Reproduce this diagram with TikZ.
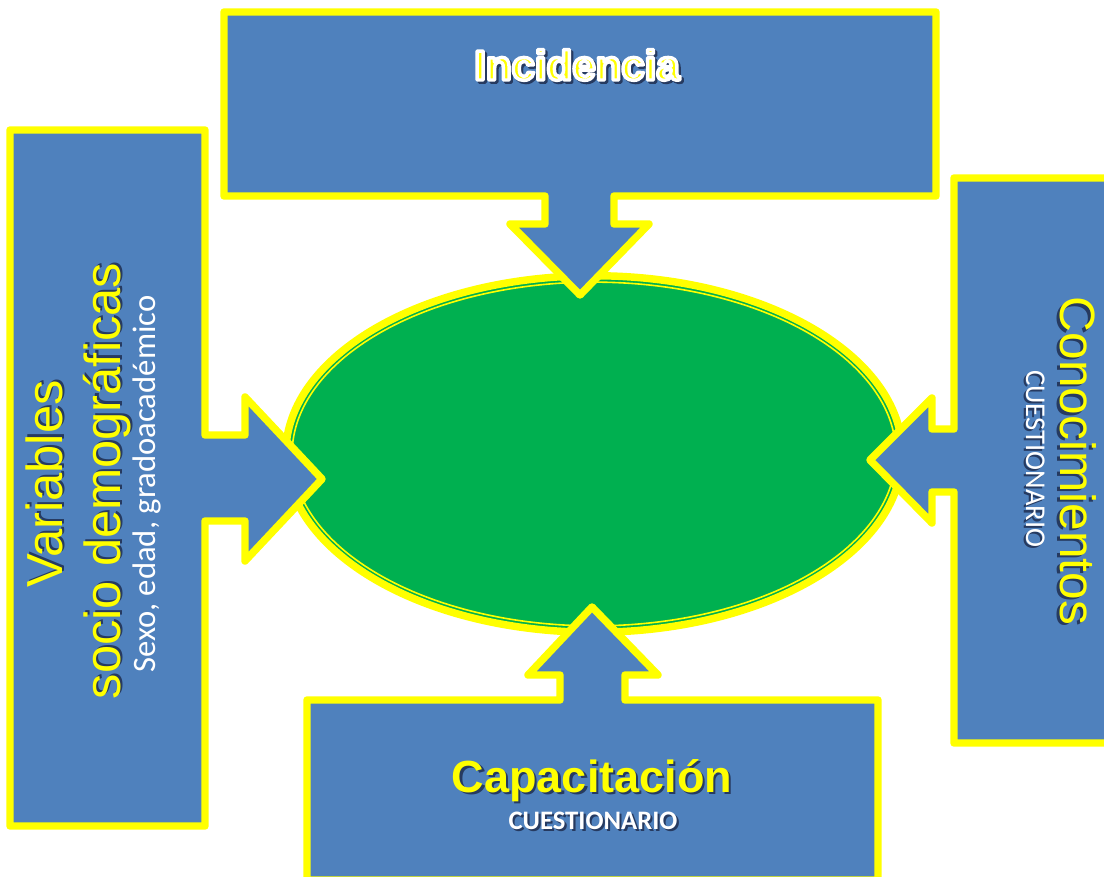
\documentclass[tikz,border=0pt]{standalone}
\usepackage{fontspec}
\setmainfont{Liberation Sans}
\newfontfamily\calib{Carlito}
\definecolor{boxblue}{HTML}{4F81BD}
\definecolor{ylw}{HTML}{FFFF00}
\definecolor{grn}{HTML}{00B050}
\definecolor{shadowc}{RGB}{38,58,96}
\newcommand{\shd}[1]{\rlap{\kern1.6pt\raisebox{-1.6pt}{\textcolor{shadowc}{#1}}}#1}
\newcommand{\strk}[2]{\special{pdf:literal direct 2 Tr #1 w 1 j}#2\special{pdf:literal direct 0 Tr}}
\newcommand{\incout}[1]{%
  \rlap{\kern1.6pt\raisebox{-1.6pt}{\textcolor{shadowc}{\strk{2.6}{#1}}}}%
  \textcolor{ylw}{\special{pdf:literal direct 1 1 1 RG}\strk{2.6}{#1}}}
\begin{document}
\begin{tikzpicture}[x=0.75pt,y=-0.75pt,
  callout/.style={fill=boxblue, draw=ylw, line width=5.6pt, line join=round},
  txt/.style={inner sep=0pt, outer sep=0pt},
  bigtxt/.style={txt, text=ylw, font=\fontsize{38}{44}\selectfont},
  smalltxt/.style={txt, text=white, font=\calib\fontsize{24.5}{28}\selectfont}]
\useasboundingbox (0,0) rectangle (1104,877);
\clip (0,0) rectangle (1104,877);
% central ellipse
\draw[ylw, line width=5.6pt, fill=grn] (594,454) ellipse [x radius=231.2pt, y radius=133.7pt];
\draw[ylw, line width=1.2pt] (594,454) ellipse [x radius=226.4pt, y radius=128.9pt];
% top callout
\draw[callout] (224,12) -- (936,12) -- (936,196) -- (614,196) -- (614,224) -- (649,224)
  -- (580,295) -- (510,224) -- (545,224) -- (545,196) -- (224,196) -- cycle;
% left callout
\draw[callout] (10,130) -- (205,130) -- (205,435) -- (245,435) -- (245,397) -- (322,479)
  -- (245,561) -- (245,521) -- (205,521) -- (205,826) -- (10,826) -- cycle;
% right callout
\draw[callout] (954,178) -- (1120,178) -- (1120,743) -- (954,743) -- (954,492) -- (932,492)
  -- (932,523) -- (870,460) -- (932,398) -- (932,429) -- (954,429) -- cycle;
% bottom callout
\draw[callout] (307,700) -- (560,700) -- (560,675) -- (528,675) -- (592,607) -- (658,675)
  -- (625,675) -- (625,700) -- (878,700) -- (878,880) -- (307,880) -- cycle;
% texts
\node[txt, anchor=base, font=\bfseries\fontsize{31.5}{36}\selectfont] (inc) at (577,80) {\incout{Incidencia}};
\node[bigtxt, rotate=90, anchor=base] (var1) at (62,484) {\shd{Variables}};
\node[bigtxt, rotate=90, anchor=base] (var2) at (120,481) {\shd{socio demográficas}};
\node[smalltxt, rotate=90, anchor=base] (var3) at (155,484) {Sexo, edad, gradoacadémico};
\node[bigtxt, rotate=-90, anchor=base, font=\fontsize{37.2}{44}\selectfont] (con) at (1060,461) {\shd{Conocimientos}};
\node[txt, text=white, rotate=-90, anchor=base, font=\calib\fontsize{21.5}{26}\selectfont] (cue1) at (1026,459) {\shd{CUESTIONARIO}};
\node[txt, text=ylw, anchor=base, font=\bfseries\fontsize{33.75}{40}\selectfont] (cap) at (592,792) {\shd{Capacitación}};
\node[txt, text=white, anchor=base, font=\calib\bfseries\fontsize{20}{24}\selectfont] (cue2) at (593,829) {\shd{CUESTIONARIO}};
\end{tikzpicture}
\end{document}
